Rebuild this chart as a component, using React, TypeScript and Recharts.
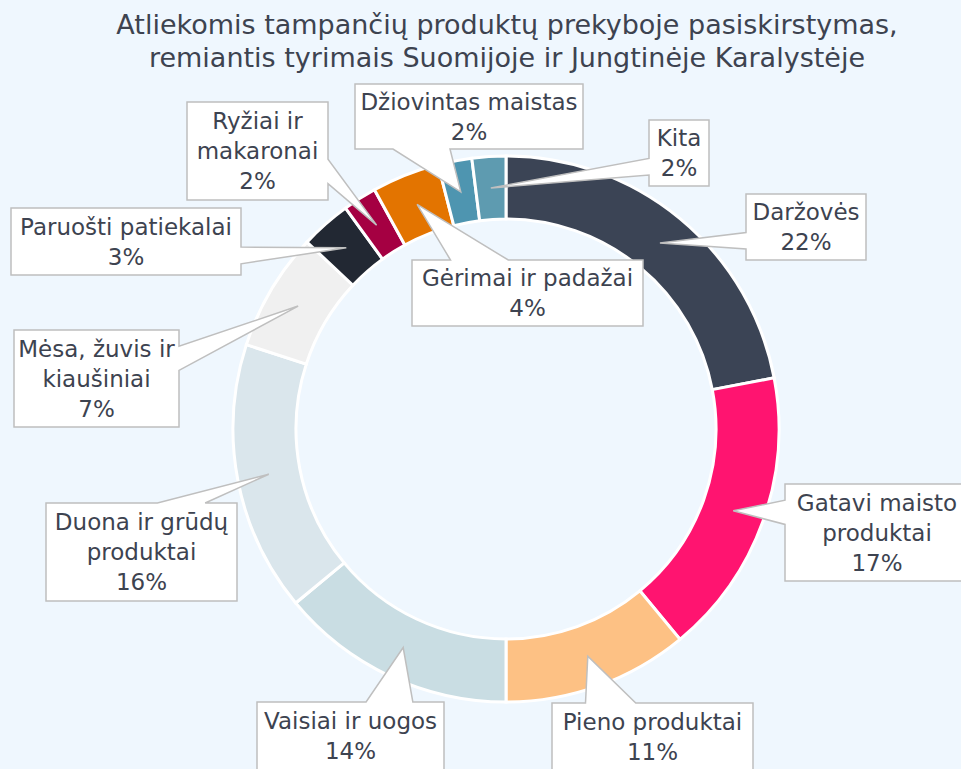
import { PieChart, Pie, Cell } from 'recharts';

// Data
const categories = [
  'Daržovės',
  'Gatavi maisto produktai',
  'Pieno produktai',
  'Vaisiai ir uogos',
  'Duona ir grūdų produktai',
  'Mėsa, žuvis ir kiaušiniai',
  'Paruošti patiekalai',
  'Ryžiai ir makaronai',
  'Gėrimai ir padažai',
  'Džiovintas maistas',
  'Kita',
];

const shares = [22, 17, 11, 14, 16, 7, 3, 2, 4, 2, 2];

// Line breaks used inside the callout boxes
const labelLines = [
  ['Daržovės'],
  ['Gatavi maisto', 'produktai'],
  ['Pieno produktai'],
  ['Vaisiai ir uogos'],
  ['Duona ir grūdų', 'produktai'],
  ['Mėsa, žuvis ir', 'kiaušiniai'],
  ['Paruošti patiekalai'],
  ['Ryžiai ir', 'makaronai'],
  ['Gėrimai ir padažai'],
  ['Džiovintas maistas'],
  ['Kita'],
];

const titleLines = [
  'Atliekomis tampančių produktų prekyboje pasiskirstymas,',
  'remiantis tyrimais Suomijoje ir Jungtinėje Karalystėje',
];

// Styling / layout
const COLORS = [
  '#3b4455',
  '#ff1470',
  '#fdc184',
  '#c9dde3',
  '#dae6ec',
  '#f0f0f0',
  '#222833',
  '#a50042',
  '#e37400',
  '#4e95b0',
  '#5e9bb0',
];

// callout boxes (x, y, w, h) in chart pixels
const BOXES = [
  { x: 746, y: 194, w: 120, h: 66 },
  { x: 785, y: 484, w: 184, h: 97 },
  { x: 552, y: 703, w: 201, h: 68 },
  { x: 257, y: 702, w: 187, h: 68 },
  { x: 46, y: 503, w: 191, h: 98 },
  { x: 14, y: 330, w: 165, h: 97 },
  { x: 11, y: 208, w: 230, h: 67 },
  { x: 187, y: 102, w: 141, h: 98 },
  { x: 412, y: 260, w: 231, h: 66 },
  { x: 355, y: 84, w: 228, h: 65 },
  { x: 649, y: 120, w: 60, h: 66 },
];

const FONT = '"DejaVu Sans", sans-serif';
const TEXT_COLOR = '#3d4350';
const LINE_H = 30;

const data = categories.map((name, i) => ({ name, value: shares[i] }));

/**
 * Rectangular callout with a wedge pointing at (tx, ty)
 */
function calloutPath(b: { x: number; y: number; w: number; h: number }, tx: number, ty: number) {
  const { x, y, w, h } = b;
  const cx = x + w / 2;
  const cy = y + h / 2;
  const inside = tx >= x && tx <= x + w && ty >= y && ty <= y + h;
  const dxn = (tx - cx) / w;
  const dyn = (ty - cy) / h;
  let edge = 'none';
  if (!inside) {
    if (Math.abs(dxn) > Math.abs(dyn)) edge = dxn > 0 ? 'right' : 'left';
    else edge = dyn > 0 ? 'bottom' : 'top';
  }
  const xa = tx < cx ? x + (w * 2) / 12 : x + (w * 7) / 12;
  const xb = tx < cx ? x + (w * 5) / 12 : x + (w * 10) / 12;
  const ya = ty < cy ? y + (h * 2) / 12 : y + (h * 7) / 12;
  const yb = ty < cy ? y + (h * 5) / 12 : y + (h * 10) / 12;

  let d = `M${x},${y}`;
  if (edge === 'top') d += ` L${xa},${y} L${tx},${ty} L${xb},${y}`;
  d += ` L${x + w},${y}`;
  if (edge === 'right') d += ` L${x + w},${ya} L${tx},${ty} L${x + w},${yb}`;
  d += ` L${x + w},${y + h}`;
  if (edge === 'bottom') d += ` L${xb},${y + h} L${tx},${ty} L${xa},${y + h}`;
  d += ` L${x},${y + h}`;
  if (edge === 'left') d += ` L${x},${yb} L${tx},${ty} L${x},${ya}`;
  return d + ' Z';
}

const renderCallout = (props: any) => {
  const { cx, cy, midAngle, innerRadius, outerRadius, index, value } = props;
  const RAD = Math.PI / 180;
  const r = (innerRadius + outerRadius) / 2;
  const tx = cx + r * Math.cos(-midAngle * RAD);
  const ty = cy + r * Math.sin(-midAngle * RAD);
  const box = BOXES[index];
  const lines = [...labelLines[index], `${value}%`];
  const top = box.y + box.h / 2 - ((lines.length - 1) * LINE_H) / 2;
  return (
    <g key={`callout-${index}`}>
      <path
        d={calloutPath(box, tx, ty)}
        fill="#ffffff"
        stroke="#bfbfbf"
        strokeWidth={1.5}
        strokeLinejoin="miter"
      />
      <text
        x={box.x + box.w / 2}
        textAnchor="middle"
        fontFamily={FONT}
        fontSize={23}
        fill={TEXT_COLOR}
      >
        {lines.map((line, i) => (
          <tspan key={i} x={box.x + box.w / 2} y={top + i * LINE_H} dominantBaseline="central">
            {line}
          </tspan>
        ))}
      </text>
    </g>
  );
};

export default function App() {
  return (
    <div
      style={{
        position: 'absolute',
        left: 0,
        top: 0,
        width: 961,
        height: 769,
        background: '#eff7fe',
        overflow: 'hidden',
      }}
    >
      <div
        style={{
          position: 'absolute',
          left: 0,
          top: 8,
          width: 1014,
          textAlign: 'center',
          fontFamily: FONT,
          fontSize: 27,
          lineHeight: '33px',
          color: TEXT_COLOR,
        }}
      >
        {titleLines.map((t) => (
          <div key={t}>{t}</div>
        ))}
      </div>
      <PieChart width={961} height={769} margin={{ top: 0, right: 0, bottom: 0, left: 0 }}>
        <Pie
          data={data}
          dataKey="value"
          nameKey="name"
          cx={506}
          cy={429}
          innerRadius={210}
          outerRadius={273}
          startAngle={90}
          endAngle={-270}
          stroke="#ffffff"
          strokeWidth={3}
          label={renderCallout}
          labelLine={false}
          isAnimationActive={false}
        >
          {data.map((d, i) => (
            <Cell key={d.name} fill={COLORS[i]} />
          ))}
        </Pie>
      </PieChart>
    </div>
  );
}
